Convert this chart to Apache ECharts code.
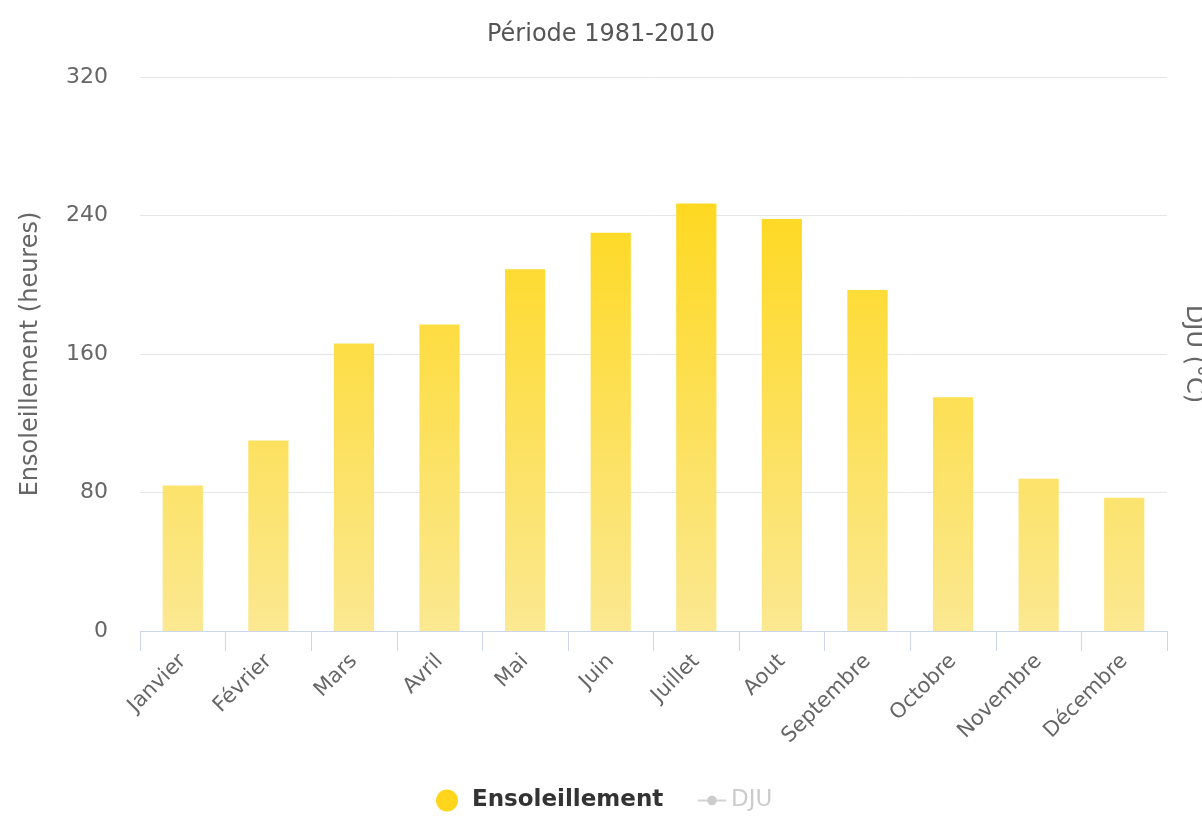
<!DOCTYPE html>
<html>
<head>
<meta charset="utf-8">
<script src="https://cdn.jsdelivr.net/npm/echarts@6/dist/echarts.min.js"></script>
<style>
  html, body { margin: 0; padding: 0; background: #ffffff; overflow: hidden; }
  #chart { width: 1202px; height: 820px; }
</style>
</head>
<body>
<div id="chart"></div>
<script>
// Monthly sunshine hours, normals 1981–2010
const months = ['Janvier', 'Février', 'Mars', 'Avril', 'Mai', 'Juin',
                'Juillet', 'Aout', 'Septembre', 'Octobre', 'Novembre', 'Décembre'];
const sunshineHours = [84, 110, 166, 177, 209, 230, 247, 238, 197, 135, 88, 77];
const djuValues = [];   // degree-days series, hidden by default
const yTicks = { min: 0, max: 320, interval: 80 };

const FONT = '"DejaVu Sans", "Open Sans", sans-serif';
const chart = echarts.init(document.getElementById('chart'), null, { renderer: 'canvas' });

const gridTop = 77, gridBottom = 189;
const barGradient = new echarts.graphic.LinearGradient(0, gridTop, 0, 820 - gridBottom, [
  { offset: 0, color: '#FFD400' },
  { offset: 1, color: '#FBE891' }
], true);

const legendText = { fontFamily: FONT, fontSize: 23, fontWeight: 'bold', color: '#333333' };

chart.setOption({
  animation: false,
  textStyle: { fontFamily: FONT },
  title: {
    text: 'Période 1981-2010',
    left: 'center',
    top: 18,
    textStyle: { fontFamily: FONT, fontSize: 24, fontWeight: 'normal', color: '#555555' }
  },
  legend: [
    {
      left: 431,
      bottom: 3,
      itemWidth: 40,
      itemHeight: 22,
      textStyle: legendText,
      data: [{ name: 'Ensoleillement', icon: 'circle', itemStyle: { color: '#FFD61C' } }]
    },
    {
      left: 692,
      bottom: 3,
      itemWidth: 28,
      itemHeight: 12,
      inactiveColor: '#cccccc',
      selected: { 'DJU': false },
      textStyle: Object.assign({}, legendText, { fontWeight: 'normal' }),
      data: [{ name: 'DJU' }]
    }
  ],
  grid: { left: 140, right: 35, top: gridTop, bottom: gridBottom, outerBoundsMode: 'none', containLabel: false },
  xAxis: {
    type: 'category',
    data: months,
    axisLine: { lineStyle: { color: '#ccd6eb', width: 1 } },
    axisTick: { show: true, length: 20, lineStyle: { color: '#ccd6eb' } },
    axisLabel: {
      rotate: 45,
      margin: 27,
      fontFamily: FONT,
      fontSize: 21,
      color: '#666666'
    }
  },
  yAxis: [
    {
      type: 'value',
      min: yTicks.min,
      max: yTicks.max,
      interval: yTicks.interval,
      name: 'Ensoleillement (heures)',
      nameLocation: 'middle',
      nameGap: 97,
      nameRotate: 90,
      nameTextStyle: { fontFamily: FONT, fontSize: 24, color: '#666666' },
      axisLine: { show: false },
      axisTick: { show: false },
      axisLabel: { margin: 32, fontFamily: FONT, fontSize: 22, color: '#666666' },
      splitLine: { lineStyle: { color: '#e6e6e6', width: 1 } }
    },
    {
      type: 'value',
      position: 'right',
      name: 'DJU (°C)',
      nameLocation: 'middle',
      nameGap: 14,
      nameRotate: -90,
      nameTextStyle: { fontFamily: FONT, fontSize: 24, color: '#666666' },
      axisLine: { show: false },
      axisTick: { show: false },
      axisLabel: { show: false },
      splitLine: { show: false }
    }
  ],
  series: [
    {
      name: 'Ensoleillement',
      type: 'bar',
      data: sunshineHours,
      yAxisIndex: 0,
      barWidth: '47%',
      itemStyle: { color: barGradient }
    },
    {
      name: 'DJU',
      type: 'line',
      data: djuValues,
      yAxisIndex: 1,
      symbol: 'circle',
      symbolSize: 9,
      itemStyle: { color: '#8c8c8c' },
      lineStyle: { color: '#8c8c8c', width: 2 }
    }
  ]
});
</script>
</body>
</html>
